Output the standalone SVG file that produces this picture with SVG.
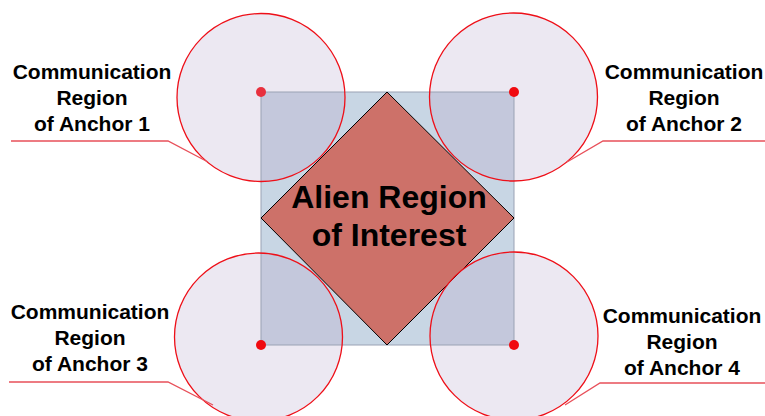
<svg xmlns="http://www.w3.org/2000/svg" width="765" height="416" viewBox="0 0 765 416">
<style>
.lbl{font-family:"Liberation Sans",Arial,sans-serif;font-weight:bold;font-size:21px;fill:#000;text-anchor:middle}
.big{font-family:"Liberation Sans",Arial,sans-serif;font-weight:bold;font-size:32px;fill:#000;text-anchor:middle}
.fillc{fill:#ece8f2}
.over{fill:#c4c8dc}
.ring{fill:none;stroke:#ee0f18;stroke-width:1.3}
.dot{fill:#f00a10}
.lead{fill:none;stroke:#e8505a;stroke-width:1.3}
</style>
<defs>
<clipPath id="sq"><rect x="261" y="92" width="253" height="253"/></clipPath>
</defs>
<rect width="765" height="416" fill="#fff"/>
<g id="area">
<rect x="261" y="92" width="253" height="253" fill="#c8d6e4"/>
</g>
<g id="anchor1">
<circle class="fillc" cx="261" cy="97.5" r="84"/>
</g>
<g id="anchor2">
<circle class="fillc" cx="513.5" cy="97" r="84"/>
</g>
<g id="anchor3">
<circle class="fillc" cx="258.5" cy="337" r="84"/>
</g>
<g id="anchor4">
<circle class="fillc" cx="514" cy="336" r="84"/>
</g>
<g id="overlap" clip-path="url(#sq)">
<circle class="over" cx="261" cy="97.5" r="84"/>
<circle class="over" cx="513.5" cy="97" r="84"/>
<circle class="over" cx="258.5" cy="337" r="84"/>
<circle class="over" cx="514" cy="336" r="84"/>
</g>
<rect x="261" y="92" width="253" height="253" fill="none" stroke="#9aa2b4" stroke-width="1"/>
<g id="alien">
<polygon points="387,92 514,218 387,345 261,218" fill="#cd7169" stroke="#000" stroke-width="1"/>
<text class="big" x="389" y="208">Alien Region</text>
<text class="big" x="389" y="246">of Interest</text>
</g>
<g id="rings">
<circle class="ring" cx="261" cy="97.5" r="84"/>
<circle class="ring" cx="513.5" cy="97" r="84"/>
<circle class="ring" cx="258.5" cy="337" r="84"/>
<circle class="ring" cx="514" cy="336" r="84"/>
</g>
<g id="dots">
<circle cx="261" cy="92" r="5" fill="#e8303e"/>
<circle class="dot" cx="514" cy="92" r="5"/>
<circle class="dot" cx="261" cy="345" r="5"/>
<circle class="dot" cx="514" cy="345" r="5"/>
</g>
<g id="label1">
<text class="lbl" x="92" y="79">Communication</text>
<text class="lbl" x="92" y="105">Region</text>
<text class="lbl" x="92" y="131">of Anchor 1</text>
</g>
<g id="label2">
<text class="lbl" x="684" y="79">Communication</text>
<text class="lbl" x="684" y="105">Region</text>
<text class="lbl" x="684" y="131">of Anchor 2</text>
</g>
<g id="label3">
<text class="lbl" x="90" y="319">Communication</text>
<text class="lbl" x="90" y="345">Region</text>
<text class="lbl" x="90" y="371">of Anchor 3</text>
</g>
<g id="label4">
<text class="lbl" x="682" y="323">Communication</text>
<text class="lbl" x="682" y="349">Region</text>
<text class="lbl" x="682" y="375">of Anchor 4</text>
</g>
<g id="connectors">
<polyline class="lead" points="11,141 168,141 208,162"/>
<polyline class="lead" points="765,141 603,141 567,162"/>
<polyline class="lead" points="9,382 168,382 213,405"/>
<polyline class="lead" points="765,383 600,383 565,405"/>
</g>
</svg>
